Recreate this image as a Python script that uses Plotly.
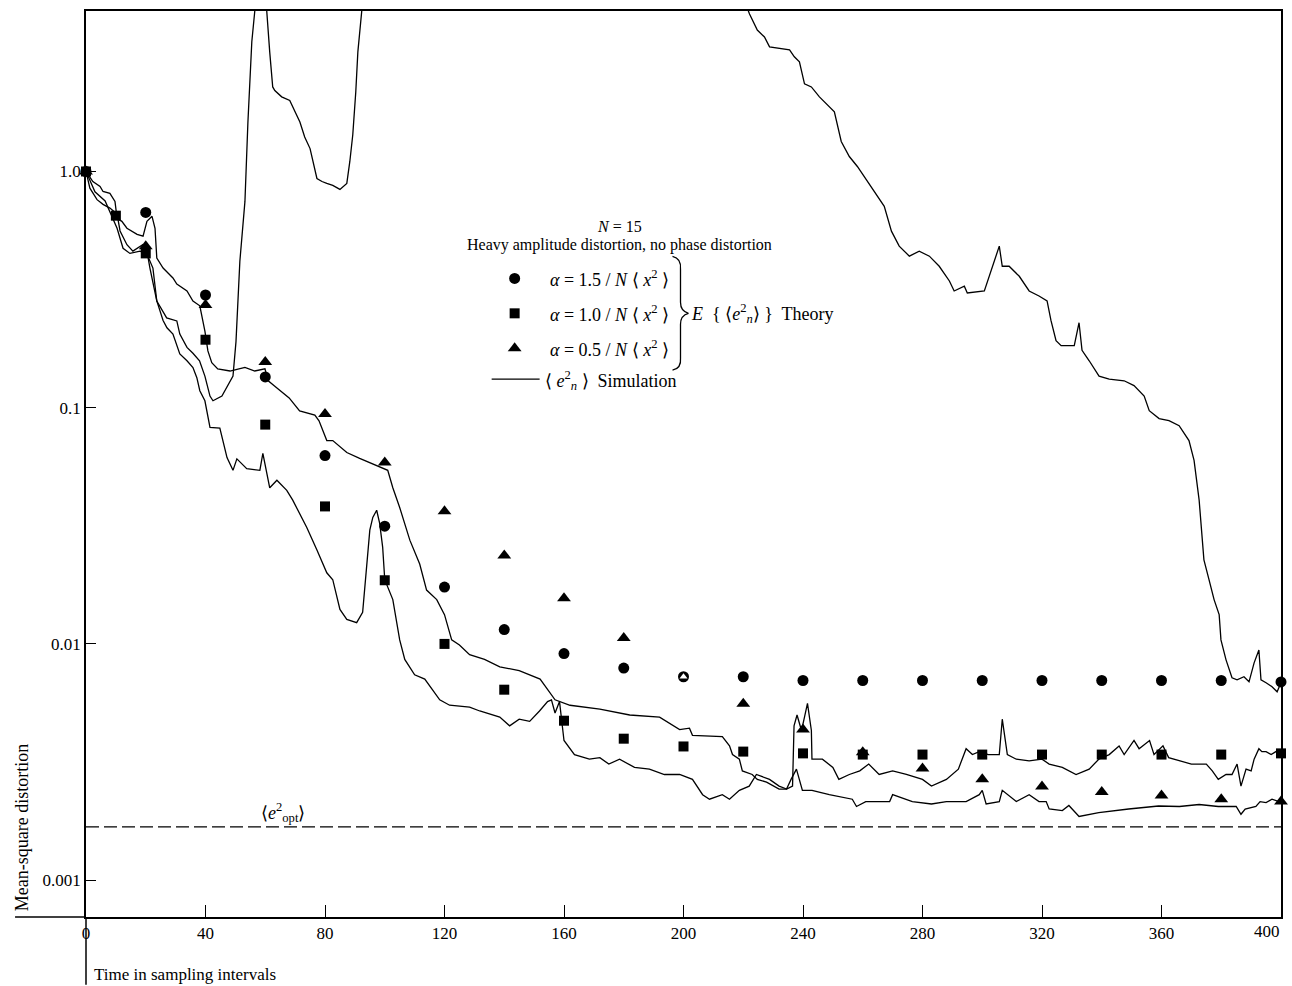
import math
import plotly.graph_objects as go

# ---------------- data ----------------
circ_x = [0, 20, 40, 60, 80, 100, 120, 140, 160, 180, 200, 220, 240, 260, 280, 300, 320, 340, 360, 380, 400]
circ_y = [1.0, 0.671, 0.300, 0.135, 0.0627, 0.0315, 0.0174, 0.0115, 0.0091, 0.0079, 0.00726, 0.00726,
          0.0070, 0.0070, 0.0070, 0.0070, 0.0070, 0.0070, 0.0070, 0.0070, 0.0069]

sq_x = [0, 10, 20, 40, 60, 80, 100, 120, 140, 160, 180, 200, 220, 240, 260, 280, 300, 320, 340, 360, 380, 400]
sq_y = [1.0, 0.65, 0.45, 0.194, 0.0848, 0.0382, 0.0186, 0.0100, 0.0064, 0.00473, 0.00397, 0.00368, 0.0035,
        0.00344, 0.0034, 0.0034, 0.0034, 0.0034, 0.0034, 0.0034, 0.0034, 0.00344]

tri_x = [0, 20, 40, 60, 80, 100, 120, 140, 160, 180, 200, 220, 240, 260, 280, 300, 320, 340, 360, 380, 400]
tri_y = [1.0, 0.482, 0.272, 0.156, 0.094, 0.0586, 0.0364, 0.0237, 0.0156, 0.0106, 0.00726, 0.00558, 0.00434,
         0.00348, 0.00297, 0.00267, 0.00249, 0.00236, 0.00228, 0.0022, 0.00215]
tri_hollow_x = 200   # triangle printed inside the circle at this time

e_opt = 0.00168

# simulation, alpha = 1.5 (diverging run; values above the top of the frame are estimates)
sim_a_x = [0, 1.3, 3.7, 5.7, 8, 10.4, 11.4, 13.7, 15.7, 19, 20.4, 21.4, 23.7, 25.8, 27, 30.4, 31.4, 33.8,
           35.8, 38, 39.8, 41.5, 42.5, 45.5, 47.5, 49.2, 50.2, 51.5, 53.2, 54.2, 55.5, 56.5, 58.5, 60.5,
           61.5, 62.5, 63.2, 65.5, 68.2, 70, 71.6, 73.2, 75, 77.3, 79, 80.6, 82.6, 85, 87.3, 88.3, 89.3,
           90.3, 91, 92.3, 95, 215,
           222.1, 224.7, 227.1, 228.8, 235.5, 237.1, 238.8, 240.5, 242.8, 245.5, 248.8, 250.5, 252.8,
           255.5, 258.2, 260.5, 263.9, 267.2, 269.6, 272.2, 275.6, 278.9, 282.3, 285.6, 289, 290.6, 294,
           295, 300.7, 304, 305.7, 306.7, 309, 312.4, 315.7, 319, 321.7, 323, 324.7, 326.4, 330.8, 332.4,
           333.4, 335.8, 339.1, 342.5, 347.5, 350.8, 354.2, 355.9, 359.2, 362.5, 365.9, 369.2, 370.9,
           372.6, 374.2, 375.9, 377.6, 379.3, 379.9, 381.6, 383.6, 385.3, 387.6, 389.3, 391, 392.6, 393.3,
           395, 397, 398.7, 400]
sim_a_y = [1.0, 0.85, 0.76, 0.726, 0.70, 0.66, 0.56, 0.49, 0.46, 0.49, 0.46, 0.39, 0.283, 0.257, 0.24, 0.233,
           0.205, 0.18, 0.17, 0.158, 0.136, 0.112, 0.107, 0.112, 0.124, 0.136, 0.19, 0.417, 0.747, 1.62,
           3.54, 4.78, 6.5, 4.78,
           3.2, 2.28, 2.2, 2.07, 2.0, 1.79, 1.62, 1.40, 1.25, 0.934, 0.907, 0.89, 0.873, 0.84, 0.89, 1.10, 1.43,
           2.17, 3.21, 4.78, 8.0, 8.0,
           4.64, 3.97, 3.71, 3.37, 3.27, 3.06, 2.91, 2.35, 2.28, 2.07, 1.88, 1.79, 1.34,
           1.157, 1.05, 0.95, 0.823, 0.712, 0.559, 0.483, 0.438, 0.46, 0.438, 0.397, 0.344, 0.312, 0.327,
           0.306, 0.312, 0.418, 0.483, 0.397, 0.397, 0.36, 0.312, 0.297, 0.283, 0.234, 0.192, 0.183, 0.183, 0.229,
           0.175, 0.158, 0.136, 0.132, 0.130, 0.124, 0.112, 0.0971, 0.0899, 0.0881, 0.0839, 0.0726, 0.0598,
           0.0406, 0.0227, 0.0187, 0.0154, 0.0133, 0.0104, 0.00856, 0.00719, 0.00705, 0.00726, 0.00691, 0.00831,
           0.00943, 0.00705, 0.00685, 0.00659, 0.00627, 0.00685]

# simulation, alpha = 1.0
sim_b_x = [0, 2.3, 4.7, 5.7, 8, 9.7, 10.4, 12, 13.7, 17.1, 19.1, 20.4, 22.1, 23.1, 23.7, 25.8, 29.1, 30.4,
           33.8, 35.8, 38.1, 39.8, 40.8, 42.1, 44.1, 48.2, 53.2, 56.5, 59.9, 61, 63, 68, 71.5, 74, 76.6, 78,
           80.6, 82.6, 87.3, 91.6, 98.3, 101, 102.7, 105, 108.4, 111.7, 114, 117.4, 120, 122.4, 125, 128.4,
           133.4, 138.5, 145, 152, 157, 162, 172, 182, 192, 198.7, 202, 203, 213, 215.4, 216.4, 218.7,
           219.7, 223, 224.7, 227.8, 232, 234.5, 236.5, 237, 238, 239.5, 240.5, 241.5, 242.8, 243, 246.5,
           250, 252, 255.5, 259, 262, 265.5, 270, 274.6, 280, 283, 288, 292, 294.6, 296.7, 299, 302, 305.7,
           306.7, 308.4, 311.4, 315.7, 320, 322.4, 326.8, 331.4, 335.8, 339, 342.5, 345.8, 347.5, 350.8,
           352.5, 356, 357.5, 360.5, 362.4, 366, 370, 375, 377, 379, 381.6, 383.6, 385.3, 386.6, 388.3,
           390, 391, 392.6, 393.6, 395, 396.7, 398.3, 400]
sim_b_y = [1.0, 0.907, 0.864, 0.823, 0.808, 0.747, 0.633, 0.615, 0.575, 0.542, 0.532, 0.615, 0.646, 0.575,
           0.43, 0.39, 0.354, 0.334, 0.312, 0.283, 0.27, 0.211, 0.174, 0.155, 0.146, 0.143, 0.148, 0.143,
           0.146, 0.13, 0.124, 0.11, 0.097, 0.095, 0.093, 0.088, 0.0726, 0.0726, 0.0646, 0.061, 0.0559,
           0.0543, 0.0458, 0.0378, 0.0275, 0.0218, 0.0169, 0.0154, 0.0133, 0.0104, 0.0099, 0.009, 0.0086,
           0.008, 0.0077, 0.0071, 0.0058, 0.0055, 0.0053, 0.005, 0.0049, 0.00434, 0.0044, 0.0041, 0.00405,
           0.0037, 0.0034, 0.00325, 0.0029, 0.0028, 0.00267, 0.0026, 0.00243, 0.00243, 0.0025, 0.0045,
           0.005, 0.0043, 0.0049, 0.0056, 0.0043, 0.00325, 0.00325, 0.003, 0.00267, 0.0028, 0.0029, 0.0031,
           0.0028, 0.0029, 0.0028, 0.00267, 0.0025, 0.00267, 0.00295, 0.0036, 0.0034, 0.0035, 0.0034,
           0.0034, 0.0048, 0.0034, 0.00325, 0.0032, 0.00325, 0.0031, 0.003, 0.0028, 0.00295, 0.00325,
           0.0034, 0.0037, 0.0034, 0.0039, 0.0036, 0.0039, 0.0034, 0.0037, 0.0033, 0.0032, 0.0031, 0.0031,
           0.0029, 0.00267, 0.0028, 0.0028, 0.0031, 0.0025, 0.00295, 0.0029, 0.00325, 0.0036, 0.0035,
           0.0035, 0.0034, 0.0035, 0.0034]

# simulation, alpha = 0.5
sim_c_x = [0, 3, 6.4, 8.7, 10.4, 12.4, 14.7, 18.1, 20.4, 22.4, 23.7, 25.8, 27.1, 29.1, 31.4, 33.8, 35.8,
           37.1, 38.1, 39.8, 40.5, 41.5, 44.8, 47.2, 49.2, 50.5, 53.8, 58.2, 59.2, 61.5, 63.9, 67.2, 69.2,
           73.9, 77.3, 80.6, 82.6, 85, 87.3, 90.6, 92.6, 94, 95, 96, 97.3, 98.3, 99.3, 100, 102.7, 105,
           106.7, 110, 113.4, 118.4, 121.7, 128.4, 131.8, 138.5, 141.8, 145, 148.5, 151.8, 154.5, 155.8,
           157, 158.5, 160, 163.5, 168.5, 172, 175, 178.6, 183.6, 188.6, 193.6, 198.7, 203, 206.4, 208.7,
           213, 215.4, 218.7, 222, 224.4, 228.8, 232, 234.5, 236, 237.8, 239.8, 243, 248.8, 256.5, 257.9,
           261, 269, 270, 276.6, 283, 288, 294.6, 299, 300, 301.3, 305.7, 306.7, 311.4, 315.7, 319, 321.4,
           322.4, 326.8, 329, 332.4, 339, 349, 359, 366, 372.6, 379, 385, 386.6, 388, 391.6, 393, 395,
           397, 399.3]
sim_c_y = [1.0, 0.82, 0.75, 0.646, 0.575, 0.473, 0.45, 0.46, 0.447, 0.39, 0.283, 0.234, 0.218, 0.205, 0.169,
           0.158, 0.148, 0.134, 0.118, 0.107, 0.0971, 0.0826, 0.082, 0.0615, 0.0543, 0.0607, 0.0552, 0.0543,
           0.064, 0.0458, 0.0493, 0.0447, 0.0406, 0.0311, 0.025, 0.02, 0.0187, 0.014, 0.0127, 0.0123,
           0.0136, 0.0227, 0.0303, 0.0343, 0.0368, 0.0324, 0.0257, 0.0187, 0.0154, 0.0104, 0.0086, 0.0074,
           0.0071, 0.0058, 0.0055, 0.0054, 0.0052, 0.0049, 0.0045, 0.0048, 0.0047, 0.0052, 0.0057, 0.0058,
           0.0051, 0.0057, 0.0039, 0.0034, 0.00325, 0.0033, 0.0031, 0.00325, 0.003, 0.00295, 0.0028, 0.0028,
           0.00267, 0.0023, 0.0022, 0.0023, 0.0022, 0.0024, 0.0025, 0.0028, 0.00267, 0.0025, 0.00243,
           0.00267, 0.00295, 0.0024, 0.0024, 0.0023, 0.0022, 0.00205, 0.00215, 0.00215, 0.0023, 0.00215,
           0.0021, 0.00215, 0.00215, 0.0023, 0.0024, 0.0021, 0.00215, 0.0024, 0.00215, 0.0023, 0.00215,
           0.00215, 0.002, 0.00197, 0.00207, 0.00186, 0.00193, 0.002, 0.00206, 0.00205, 0.00209, 0.00205,
           0.00205, 0.0019, 0.002, 0.00205, 0.00215, 0.00213, 0.0022, 0.00215]

x_ticks = [0, 40, 80, 120, 160, 200, 240, 280, 320, 360]
x_last = 400
y_ticks = [0.001, 0.01, 0.1, 1.0]
y_tick_text = ["0.001", "0.01", "0.1", "1.0"]
y_min, y_max = 0.000698, 4.78

# ---------------- layout helpers ----------------
W, H = 1292, 986
ML, MR, MT, MB = 86, 10, 9, 69
PW, PH = W - ML - MR, H - MT - MB
FONT = "Liberation Serif"


def px(x):
    return (x - ML) / PW


def py(y):
    return (H - MB - y) / PH


fig = go.Figure()
line_style = dict(color="black", width=1.3)
for xs, ys in [(sim_a_x, sim_a_y), (sim_b_x, sim_b_y), (sim_c_x, sim_c_y)]:
    fig.add_trace(go.Scatter(x=xs, y=ys, mode="lines", line=line_style, showlegend=False, hoverinfo="skip"))

fig.add_trace(go.Scatter(x=[0, x_last], y=[e_opt, e_opt], mode="lines",
                         line=dict(color="black", width=1.3, dash="13px,5px"), showlegend=False))

fig.add_trace(go.Scatter(x=circ_x, y=circ_y, mode="markers", cliponaxis=False, showlegend=False,
                         marker=dict(symbol="circle", size=11, color="black", opacity=1)))
fig.add_trace(go.Scatter(x=sq_x, y=sq_y, mode="markers", cliponaxis=False, showlegend=False,
                         marker=dict(symbol="square", size=10, color="black", opacity=1)))
tri_col = ["white" if x == tri_hollow_x else "black" for x in tri_x]
tri_size = [7 if x == tri_hollow_x else 12 for x in tri_x]
fig.add_trace(go.Scatter(x=tri_x, y=tri_y, mode="markers", cliponaxis=False, showlegend=False,
                         marker=dict(symbol="triangle-up", size=tri_size, color=tri_col, opacity=1,
                                     line=dict(width=0))))

# legend glyphs on an overlay axis that matches the paper coordinates
leg_rows = [(277, "circle", 11), (312, "square", 10), (347, "triangle-up", 12)]
for yy, sym, sz in leg_rows:
    fig.add_trace(go.Scatter(x=[px(515)], y=[py(yy)], xaxis="x2", yaxis="y2", mode="markers",
                             marker=dict(symbol=sym, size=sz, color="black", opacity=1), showlegend=False))
fig.add_trace(go.Scatter(x=[px(492), px(540)], y=[py(378), py(378)], xaxis="x2", yaxis="y2",
                         mode="lines", line=dict(color="black", width=1.2), showlegend=False))

tf = dict(family=FONT, size=17, color="black")
ann = []


def text(x, y, s, anchor="left", size=17, **kw):
    ann.append(dict(xref="paper", yref="paper", x=px(x), y=py(y), text=s, showarrow=False,
                    xanchor=anchor, yanchor="middle", font=dict(family=FONT, size=size, color="black"), **kw))


text(620, 225, "<i>N</i> = 15", anchor="center", size=16)
text(620, 244, "Heavy amplitude distortion, no phase distortion", anchor="center", size=16)
text(548, 277, "<i>α</i> = 1.5 / <i>N</i> ⟨ <i>x</i><sup>2</sup> ⟩", size=18)
text(548, 312, "<i>α</i> = 1.0 / <i>N</i> ⟨ <i>x</i><sup>2</sup> ⟩", size=18)
text(548, 347, "<i>α</i> = 0.5 / <i>N</i> ⟨ <i>x</i><sup>2</sup> ⟩", size=18)
text(690, 312, "<i>E</i>  { ⟨<i>e</i><sup>2</sup><sub><i>n</i></sub>⟩ }  Theory", size=18)
text(543, 379, "⟨ <i>e</i><sup>2</sup><sub><i>n</i></sub> ⟩  Simulation", size=18)
text(283, 812, "⟨<i>e</i><sup>2</sup><sub>opt</sub>⟩", anchor="center", size=18)
text(92, 975, "Time in sampling intervals")
text(1283, 932, str(x_last), anchor="right")
ann.append(dict(xref="paper", yref="paper", x=px(22), y=py(828), text="Mean-square distortion",
                showarrow=False, textangle=-90, xanchor="center", yanchor="middle",
                font=dict(family=FONT, size=18, color="black")))


def P(x, y):
    return f"{px(x):.5f},{py(y):.5f}"


brace = (f"M {P(673,255)} Q {P(682,257)} {P(681,268)} L {P(681,301)} Q {P(681,310)} {P(689,312)} "
         f"Q {P(681,314)} {P(681,323)} L {P(681,357)} Q {P(682,367)} {P(673,369)}")
shapes = [
    dict(type="path", path=brace, xref="paper", yref="paper", line=dict(color="black", width=1.3)),
    dict(type="line", xref="paper", yref="paper", x0=px(15), x1=0, y0=0, y1=0,
         line=dict(color="black", width=1.5)),
    dict(type="line", xref="paper", yref="paper", x0=0, x1=0, y0=py(985), y1=0,
         line=dict(color="black", width=1.5)),
]

fig.update_layout(
    width=W, height=H, margin=dict(l=ML, r=MR, t=MT, b=MB),
    paper_bgcolor="white", plot_bgcolor="white",
    font=tf, annotations=ann, shapes=shapes, showlegend=False,
    xaxis=dict(range=[0, x_last], tickvals=x_ticks, ticks="inside", ticklen=12, tickwidth=1.2,
               tickcolor="black", showline=True, mirror=True, linecolor="black", linewidth=1.5,
               showgrid=False, zeroline=False, tickfont=tf),
    yaxis=dict(type="log", range=[math.log10(y_min), math.log10(y_max)], tickvals=y_ticks,
               ticktext=y_tick_text, ticks="inside", ticklen=10, tickwidth=1.2, tickcolor="black",
               showline=True, mirror=True, linecolor="black", linewidth=1.5, showgrid=False,
               zeroline=False, tickfont=tf),
    xaxis2=dict(range=[0, 1], overlaying="x", visible=False),
    yaxis2=dict(range=[0, 1], overlaying="y", visible=False),
)

fig.write_html("out.html")
